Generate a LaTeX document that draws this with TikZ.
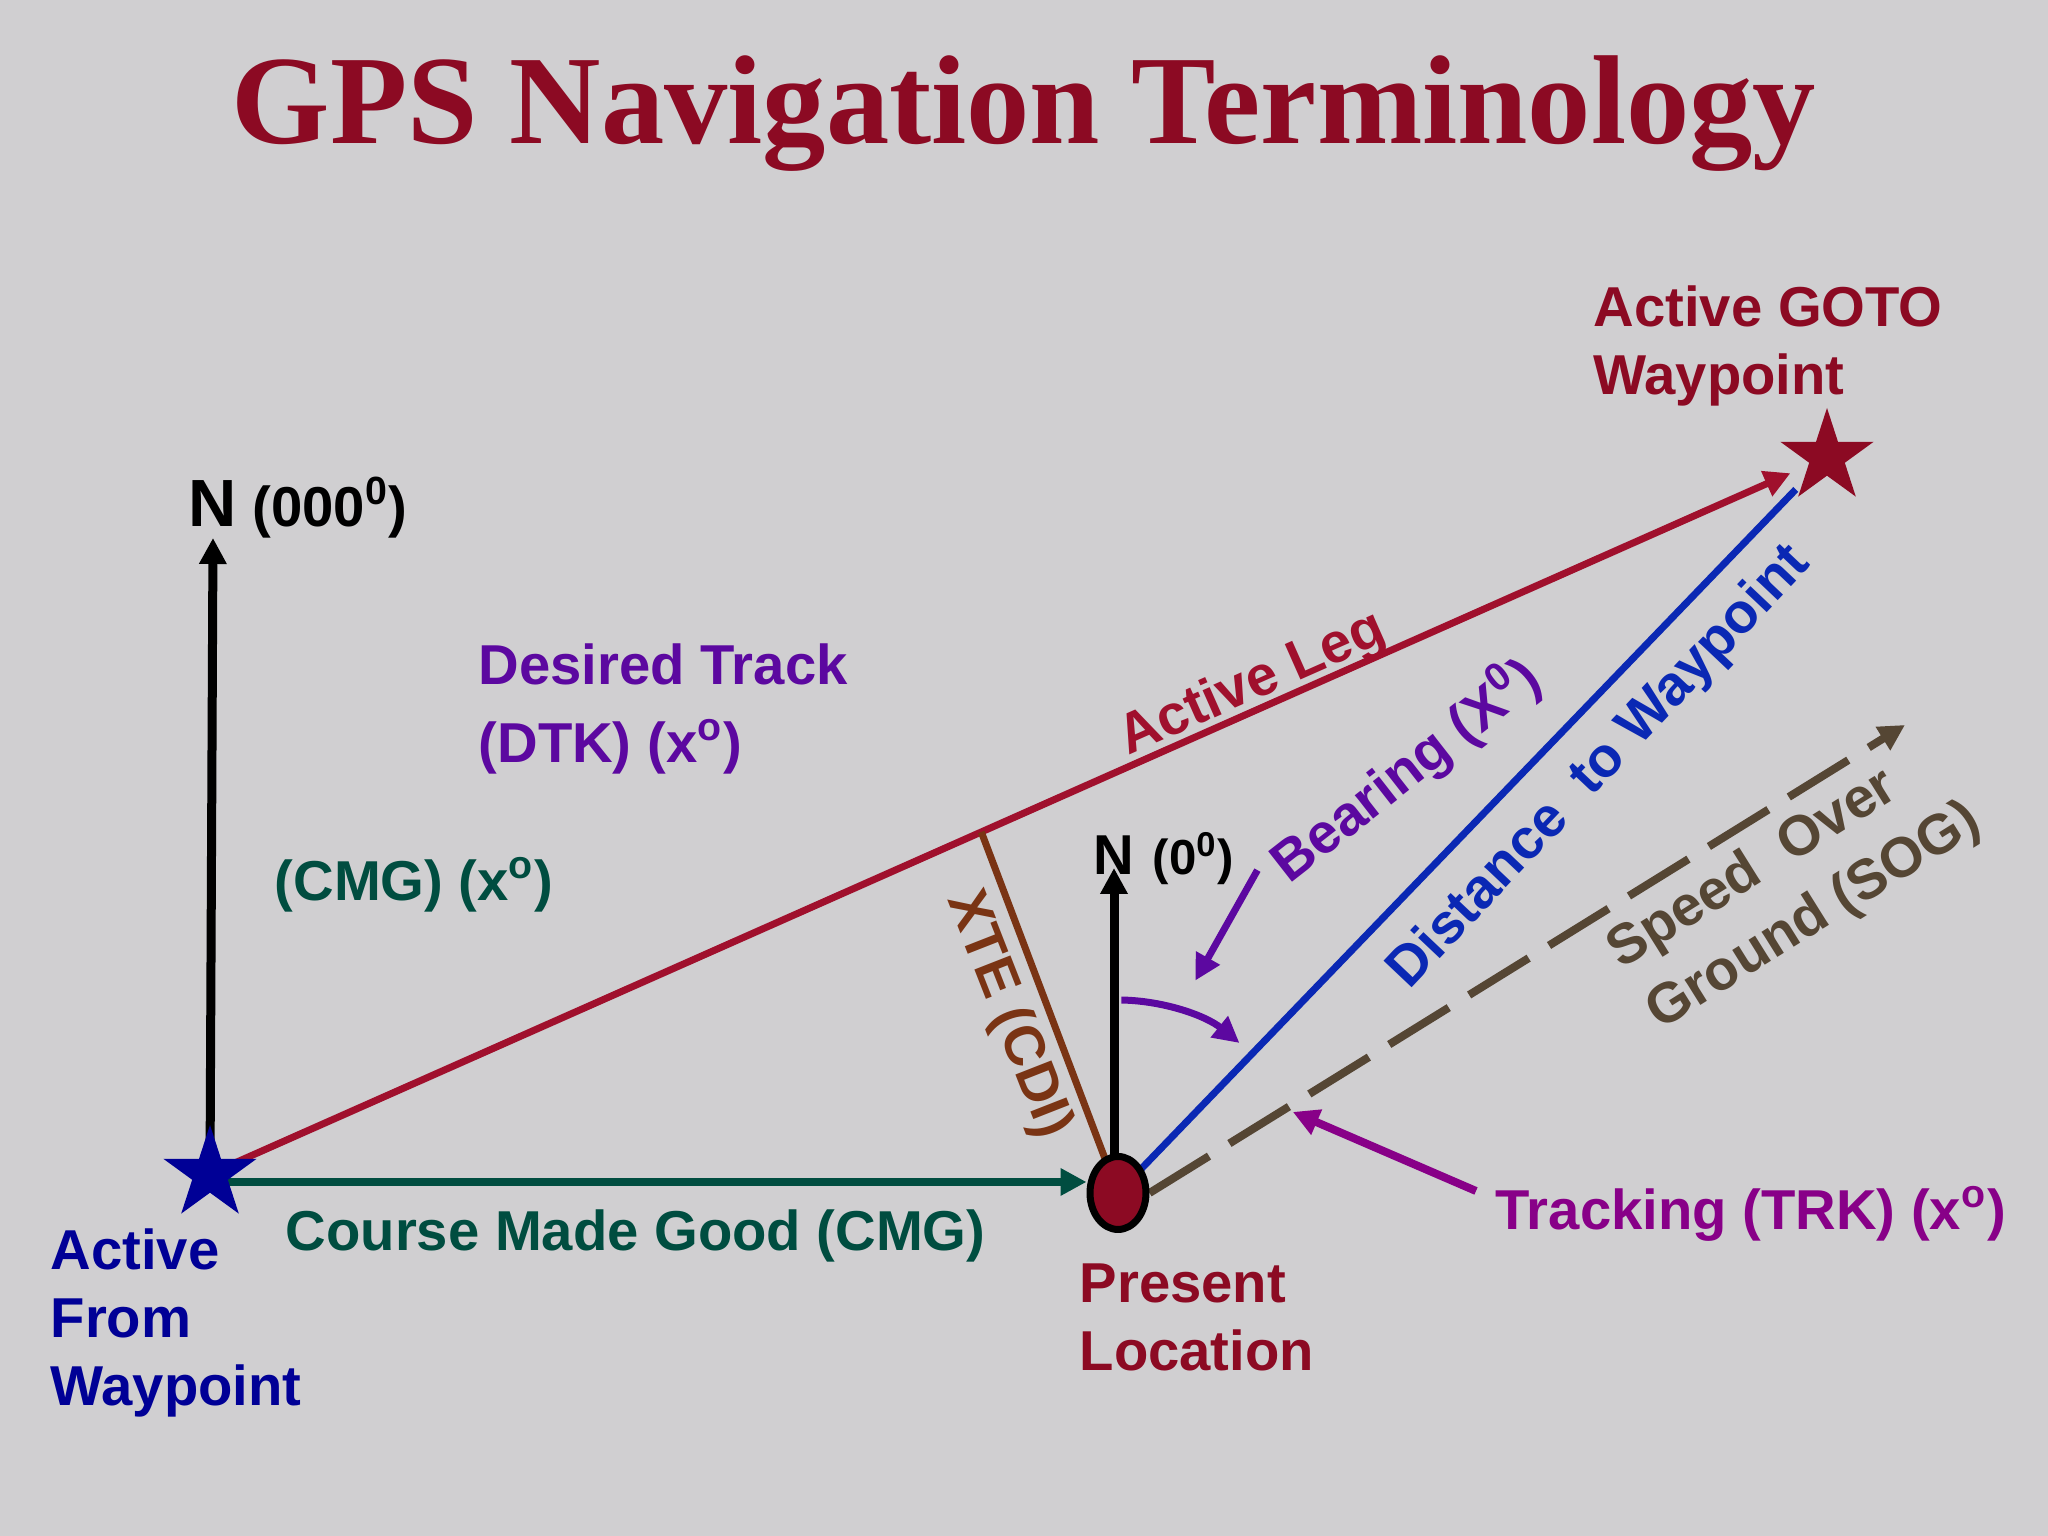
\documentclass[tikz,border=0pt]{standalone}
\usepackage{fontspec}
\setmainfont{Liberation Sans}
\newfontfamily\ttlfamily{Liberation Serif}
\usetikzlibrary{arrows.meta,shapes.geometric}

\definecolor{bgcol}{RGB}{208,207,209}
\definecolor{titlered}{RGB}{140,10,35}
\definecolor{legred}{RGB}{160,16,45}
\definecolor{fromblue}{RGB}{0,0,150}
\definecolor{distblue}{RGB}{10,40,180}
\definecolor{cmggreen}{RGB}{0,77,64}
\definecolor{brgviolet}{RGB}{92,8,160}
\definecolor{trkpurple}{RGB}{136,0,136}
\definecolor{xtebrown}{RGB}{122,52,20}
\definecolor{sogbrown}{RGB}{85,70,52}

\pgfdeclarelayer{back}
\pgfsetlayers{back,main}

\tikzset{
  >={Triangle[length=2.6mm,width=2.6mm]},
  ttl/.style={font=\fontsize{36pt}{40pt}\selectfont\ttlfamily\bfseries, text=titlered, inner sep=0pt},
  lbl/.style={font=\fontsize{16pt}{19.4pt}\selectfont\bfseries, inner sep=0pt},
  wpstar/.style={star, star points=5, star point ratio=2.618, minimum size=9.8mm, inner sep=0pt},
  posdot/.style={ellipse, draw=black, line width=0.7mm, fill=titlered, minimum width=5.6mm, minimum height=7.3mm, inner sep=0pt},
  northline/.style={black, line width=0.9mm},
  legline/.style={legred, line width=0.7mm},
  cmgline/.style={cmggreen, line width=0.8mm},
  xteline/.style={xtebrown, line width=0.7mm},
  distline/.style={distblue, line width=0.7mm},
  sogline/.style={sogbrown, line width=0.8mm, dash pattern=on 7mm off 2.4mm},
  trkline/.style={trkpurple, line width=0.8mm},
  brgline/.style={brgviolet, line width=0.7mm}
}

\begin{document}
\begin{tikzpicture}
  \useasboundingbox (0,0) rectangle (20.48,15.36);

  \node[ttl, anchor=base] (title) at (10.24,13.92) {GPS Navigation Terminology};

  \node[wpstar, fill=fromblue] (fromwp) at (2.10,3.62) {};
  \node[wpstar, fill=titlered] (gotowp) at (18.27,10.79) {};
  \node[posdot] (here) at (11.18,3.43) {};
  \coordinate (sogtip) at (19.05,8.11);

  \node[lbl, titlered, align=left, anchor=north west] (gotolbl) at (15.93,12.51) {Active GOTO\\Waypoint};
  \node[lbl, fromblue, align=left, anchor=north west] (fromlbl) at (0.50,3.08) {Active\\From\\Waypoint};
  \node[lbl, titlered, align=left, anchor=north west] (herelbl) at (10.79,2.73) {Present\\Location};
  \node[lbl, cmggreen, anchor=base west] (cmglbl) at (2.85,2.85) {Course Made Good (CMG)};
  \node[lbl, cmggreen, anchor=base west] (cmgdeg) at (2.74,6.35) {(CMG) (x\textsuperscript{o})};
  \node[lbl, brgviolet, align=left, anchor=north west] (dtk) at (4.78,8.93) {Desired Track\\[1mm](DTK) (x\textsuperscript{o})};
  \node[lbl, trkpurple, anchor=base west] (trk) at (14.95,3.06) {Tracking (TRK) (x\textsuperscript{o})};

  \node[lbl, font=\fontsize{19pt}{23pt}\selectfont\bfseries, anchor=base] (nleft) at (2.13,10.09) {N};
  \node[lbl, anchor=base west] (nleftdeg) at (2.52,10.09) {(000\textsuperscript{0})};
  \node[lbl, anchor=base] (nright) at (11.14,6.61) {N};
  \node[lbl, font=\fontsize{14pt}{17pt}\selectfont\bfseries, anchor=base west] (nrightdeg) at (11.52,6.61) {(0\textsuperscript{0})};

  \node[lbl, legred, rotate=23.9] (leglbl) at (12.53,8.51) {Active Leg};
  \node[lbl, brgviolet, rotate=38, anchor=base west] (brg) at (12.89,6.51) {Bearing (X\textsuperscript{0})};
  \node[lbl, distblue, rotate=46.6] (distlbl) at (16.00,7.68) {Distance\ \ to Waypoint};
  \node[lbl, sogbrown, rotate=32, align=left] (soglbl) at (17.95,6.49) {Speed\ \ Over\\[0.4mm]Ground (SOG)};
  \node[lbl, xtebrown, rotate=-68.6] (xtelbl) at (10.08,5.21) {XTE (CDI)};

  \begin{pgfonlayer}{back}
    \fill[bgcol] (0,0) rectangle (20.48,15.36);
    \draw[northline,->] (fromwp.center) -- ([yshift=-1.1mm]nleft.base);
    \draw[northline,->] (nright |- here.center) -- ([yshift=0.7mm]nright.base);
    \draw[legline,->,shorten >=4mm] (fromwp.center) -- coordinate[pos=0.477] (xtefoot) (gotowp.center);
    \coordinate[yshift=1.1mm] (cmgtip) at (here.west);
    \draw[cmgline,->] (fromwp |- cmgtip) -- (cmgtip);
    \draw[xteline] (xtefoot) -- (here.center);
    \draw[distline,shorten >=4.5mm] (here.center) -- (gotowp.center);
    \draw[sogline,->] (here.east) -- coordinate[pos=0.18] (trkpt) (sogtip);
    \draw[trkline,->,shorten >=0.8mm] ([shift={(-0.19,0.39)}]trk.base west) -- (trkpt);
    \coordinate (brgtip) at ([shift={(70:2.26)}]here.center);
    \draw[brgline,->] ([xshift=-2mm]brg.west) -- (brgtip);
    \draw[brgline,->] ([shift={(89:1.93)}]here.center) arc[start angle=89, end angle=51, radius=1.93];
  \end{pgfonlayer}
\end{tikzpicture}
\end{document}
